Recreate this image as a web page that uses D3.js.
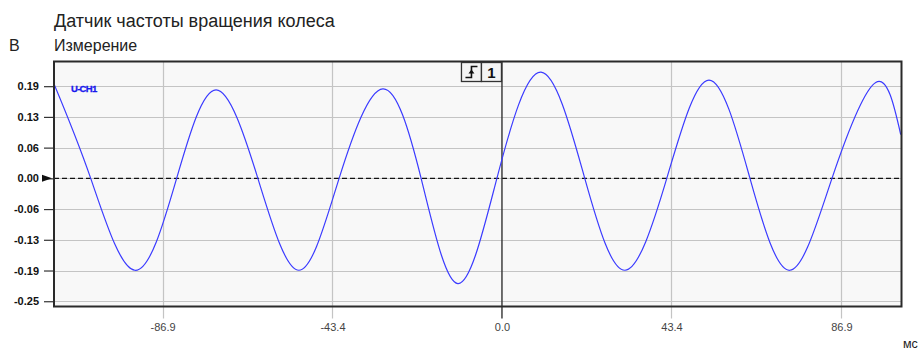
<!DOCTYPE html>
<html><head><meta charset="utf-8">
<script src="https://cdn.jsdelivr.net/npm/d3@7"></script>
<style>body{margin:0;background:#fff;} svg{display:block;font-family:"Liberation Sans",Arial,sans-serif;}</style>
</head><body>
<svg id="c" width="923" height="351"></svg>
<script>
// ---- data ----
const title = "Датчик частоты вращения колеса";
const subtitle = "Измерение";
const yUnit = "В";
const xUnit = "мс";
const channel = "U-CH1";
const yTicks = [0.1875, 0.125, 0.0625, 0, -0.0625, -0.125, -0.1875, -0.25];
const xTicks = [-86.9, -43.4, 0.0, 43.4, 86.9];
const timeMs = [-114.7, -105.3, -94.0, -83.3, -73.2, -62.5, -52.0, -41.7, -30.5, -20.7, -11.3, -1.3, 10.0, 21.2, 31.5, 42.2, 53.0, 63.5, 73.7, 84.5, 95.7, 102.1];
const volts  = [0.192, 0.0, -0.187, 0.0, 0.180, 0.0, -0.187, 0.0, 0.182, 0.0, -0.214, 0.0, 0.216, 0.0, -0.187, 0.0, 0.200, 0.0, -0.187, 0.0, 0.195, 0.089];

// ---- layout ----
const svg = d3.select("#c");
const L = 54, R = 901.5, T = 61.5, B = 306.5;
const x = d3.scaleLinear().domain([-114.7, 102.3]).range([L, R]);
const y = d3.scaleLinear().domain([-0.2607, 0.2377]).range([B, T]);
const hyph = f => d => f(d).replace("\u2212", "-");

svg.append("text").attr("x", 54).attr("y", 27).attr("font-size", 18).attr("fill", "#222").text(title);
svg.append("text").attr("x", 54).attr("y", 50.5).attr("font-size", 16).attr("fill", "#222").text(subtitle);
svg.append("text").attr("x", 9).attr("y", 50.5).attr("font-size", 16).attr("fill", "#222").text(yUnit);
svg.append("text").attr("x", 903).attr("y", 348).attr("font-size", 12.5).attr("fill", "#222").text(xUnit);

svg.append("rect").attr("x", L).attr("y", T).attr("width", R - L).attr("height", B - T).attr("fill", "#f8f8f8");

// grid
const g = svg.append("g");
g.selectAll("line.hy").data(yTicks).join("line")
  .attr("x1", L).attr("x2", R).attr("y1", d => Math.round(y(d)) + 0.5).attr("y2", d => Math.round(y(d)) + 0.5)
  .attr("stroke", "#c4c4c4").attr("stroke-width", 1.2);
g.selectAll("line.vx").data(xTicks.filter(d => d !== 0)).join("line")
  .attr("y1", T).attr("y2", B + 12).attr("x1", d => Math.round(x(d)) + 0.5).attr("x2", d => Math.round(x(d)) + 0.5)
  .attr("stroke", "#c4c4c4").attr("stroke-width", 1.2);

// y axis via d3
const yAxis = d3.axisLeft(y).tickValues(yTicks).tickSize(10).tickPadding(5).tickFormat(hyph(d3.format(".2f")));
const ya = svg.append("g").attr("transform", `translate(${L},0)`).call(yAxis);
ya.select(".domain").remove();
ya.selectAll("line").attr("stroke", "#333").attr("stroke-width", 1.2);
ya.selectAll("text").attr("font-size", 11).attr("font-weight", "bold").attr("fill", "#111")
  .attr("font-family", "'Liberation Sans',Arial,sans-serif");

// x axis via d3
const xAxis = d3.axisBottom(x).tickValues(xTicks).tickSize(0).tickPadding(17).tickFormat(hyph(d3.format(".1f")));
const xa = svg.append("g").attr("transform", `translate(0,${B})`).call(xAxis);
xa.select(".domain").remove();
xa.selectAll("text").attr("font-size", 11).attr("fill", "#444")
  .attr("font-family", "'Liberation Sans',Arial,sans-serif");

// zero dashed line
svg.append("line").attr("x1", L).attr("x2", R).attr("y1", y(0)).attr("y2", y(0))
  .attr("stroke", "#111").attr("stroke-width", 1.3).attr("stroke-dasharray", "5,3");
// marker arrow
svg.append("path").attr("d", `M${L - 12},${y(0) - 3.5}L${L - 2},${y(0)}L${L - 12},${y(0) + 3.5}Z`).attr("fill", "#111");

// trigger vertical line
svg.append("line").attr("x1", x(0)).attr("x2", x(0)).attr("y1", T).attr("y2", B + 12)
  .attr("stroke", "#333").attr("stroke-width", 1.4);

// signal
const pts = timeMs.map((t, i) => [t, volts[i]]);
svg.append("clipPath").attr("id", "pc").append("rect").attr("x", L).attr("y", T).attr("width", R - L).attr("height", B - T);
svg.append("path").datum(pts).attr("clip-path", "url(#pc)")
  .attr("d", d3.line().x(d => x(d[0])).y(d => y(d[1])).curve(d3.curveNatural))
  .attr("fill", "none").attr("stroke", "#3b3bff").attr("stroke-width", 1.2);

// border
svg.append("rect").attr("x", L).attr("y", T).attr("width", R - L).attr("height", B - T)
  .attr("fill", "none").attr("stroke", "#2a2a2a").attr("stroke-width", 2);

// channel label
svg.append("text").attr("x", 71).attr("y", 92).attr("font-size", 9.5).attr("font-weight", "bold")
  .attr("fill", "#1a1aee").attr("letter-spacing", -0.7).attr("stroke", "#1a1aee").attr("stroke-width", 0.3).text(channel);

// trigger boxes
const bx = x(0) - 40.5, by = T + 1;
svg.append("rect").attr("x", bx).attr("y", by).attr("width", 20).attr("height", 19).attr("fill", "#f4f4f4").attr("stroke", "#333").attr("stroke-width", 1.3);
svg.append("rect").attr("x", bx + 20).attr("y", by).attr("width", 20).attr("height", 19).attr("fill", "#f4f4f4").attr("stroke", "#333").attr("stroke-width", 1.3);
svg.append("path").attr("d", `M${bx + 4},${by + 15}H${bx + 10}V${by + 4}H${bx + 16}`).attr("fill", "none").attr("stroke", "#111").attr("stroke-width", 1.6);
svg.append("path").attr("d", `M${bx + 7},${by + 11}L${bx + 10},${by + 7}L${bx + 13},${by + 11}Z`).attr("fill", "#111");
svg.append("text").attr("x", bx + 30).attr("y", by + 15.5).attr("text-anchor", "middle").attr("font-size", 15).attr("font-weight", "bold").attr("fill", "#111").text("1");
</script>
</body></html>
